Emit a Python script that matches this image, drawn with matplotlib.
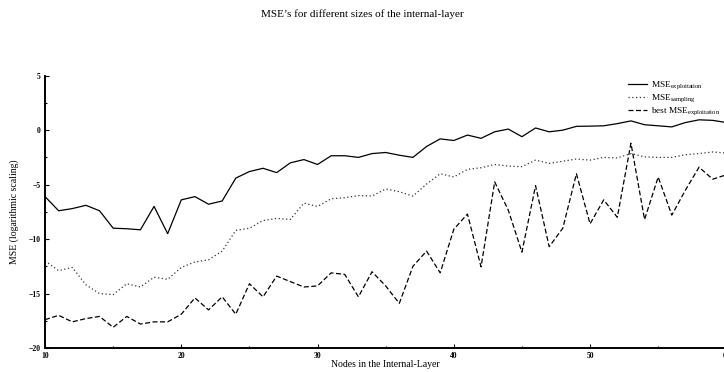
import numpy as np
import matplotlib
matplotlib.use("Agg")
import matplotlib.pyplot as plt
from matplotlib.ticker import MultipleLocator

plt.rcParams['font.family'] = ['Liberation Serif', 'DejaVu Serif']
plt.rcParams['mathtext.fontset'] = 'custom'
plt.rcParams['mathtext.rm'] = 'Liberation Serif'

# nodes in the internal layer
nodes = list(range(10, 61))

# MSE exploitation (log scale)
mse_exploitation = [
    -6.1, -7.4, -7.2, -6.9, -7.4, -9.0, -9.05, -9.15, -7.0, -9.5,
    -6.4, -6.1, -6.8, -6.5, -4.4, -3.8, -3.5, -3.9, -3.0, -2.7,
    -3.15, -2.35, -2.35, -2.5, -2.15, -2.05, -2.3, -2.5, -1.5, -0.8,
    -0.95, -0.45, -0.75, -0.15, 0.1, -0.6, 0.2, -0.15, 0.0, 0.35,
    0.37, 0.4, 0.6, 0.85, 0.5, 0.4, 0.3, 0.7, 0.95, 0.9,
    0.7,
]

# MSE sampling
mse_sampling = [
    -12.0, -12.9, -12.6, -14.2, -15.0, -15.1, -14.1, -14.4, -13.5, -13.7,
    -12.6, -12.1, -11.9, -11.1, -9.2, -9.0, -8.3, -8.1, -8.2, -6.7,
    -7.0, -6.3, -6.2, -6.0, -6.05, -5.4, -5.65, -6.05, -4.95, -4.0,
    -4.3, -3.6, -3.45, -3.15, -3.3, -3.35, -2.75, -3.05, -2.85, -2.65,
    -2.75, -2.5, -2.55, -2.15, -2.45, -2.5, -2.5, -2.25, -2.15, -2.0,
    -2.1,
]

# best MSE exploitation
best_mse_exploitation = [
    -17.4, -17.0, -17.6, -17.3, -17.1, -18.1, -17.1, -17.8, -17.6, -17.6,
    -16.9, -15.4, -16.5, -15.3, -16.9, -14.1, -15.3, -13.4, -13.9, -14.4,
    -14.3, -13.1, -13.25, -15.3, -13.0, -14.3, -15.9, -12.5, -11.1, -13.1,
    -9.1, -7.7, -12.55, -4.75, -7.35, -11.2, -5.1, -10.7, -9.0, -4.0,
    -8.6, -6.4, -8.0, -1.2, -8.2, -4.3, -7.8, -5.5, -3.4, -4.5,
    -4.1,
]

fig = plt.figure(figsize=(7.24, 3.72), dpi=100)
ax = fig.add_axes([0.0622, 0.0645, 0.941, 0.732])

ax.plot(nodes, mse_exploitation, color='black', linewidth=0.9, linestyle='-',
        label=r'MSE$_{\mathrm{exploitation}}$')
ax.plot(nodes, mse_sampling, color='#333333', linewidth=0.9, linestyle=(0, (1, 2)),
        label=r'MSE$_{\mathrm{sampling}}$')
ax.plot(nodes, best_mse_exploitation, color='black', linewidth=0.9, linestyle=(0, (4, 2)),
        label=r'best MSE$_{\mathrm{exploitation}}$')

ax.set_xlim(10, 60)
ax.set_ylim(-20, 5)
ax.xaxis.set_major_locator(MultipleLocator(10))
ax.xaxis.set_minor_locator(MultipleLocator(5))
ax.yaxis.set_major_locator(MultipleLocator(5))
ax.yaxis.set_minor_locator(MultipleLocator(2.5))

for side in ['top', 'right']:
    ax.spines[side].set_visible(False)
for side in ['left', 'bottom']:
    ax.spines[side].set_linewidth(1.4)

ax.tick_params(which='major', direction='in', length=3, width=0.8, labelsize=5.5, pad=3)
ax.tick_params(which='minor', direction='in', length=1.5, width=0.8)
for lbl in ax.get_xticklabels() + ax.get_yticklabels():
    lbl.set_fontweight('bold')

ax.set_xlabel('Nodes in the Internal-Layer', fontsize=7, labelpad=0)
ax.set_ylabel('MSE (logarithmic scaling)', fontsize=7, labelpad=7)
fig.text(0.5, 0.962, 'MSE\u2019s for different sizes of the internal-layer',
         ha='center', va='center', fontsize=8)

ax.legend(loc='upper right', bbox_to_anchor=(0.996, 0.998), fontsize=6.7, frameon=False,
          handlelength=2.0, handletextpad=0.4, labelspacing=0.08, borderaxespad=0)

fig.savefig('out.png', dpi=100)
